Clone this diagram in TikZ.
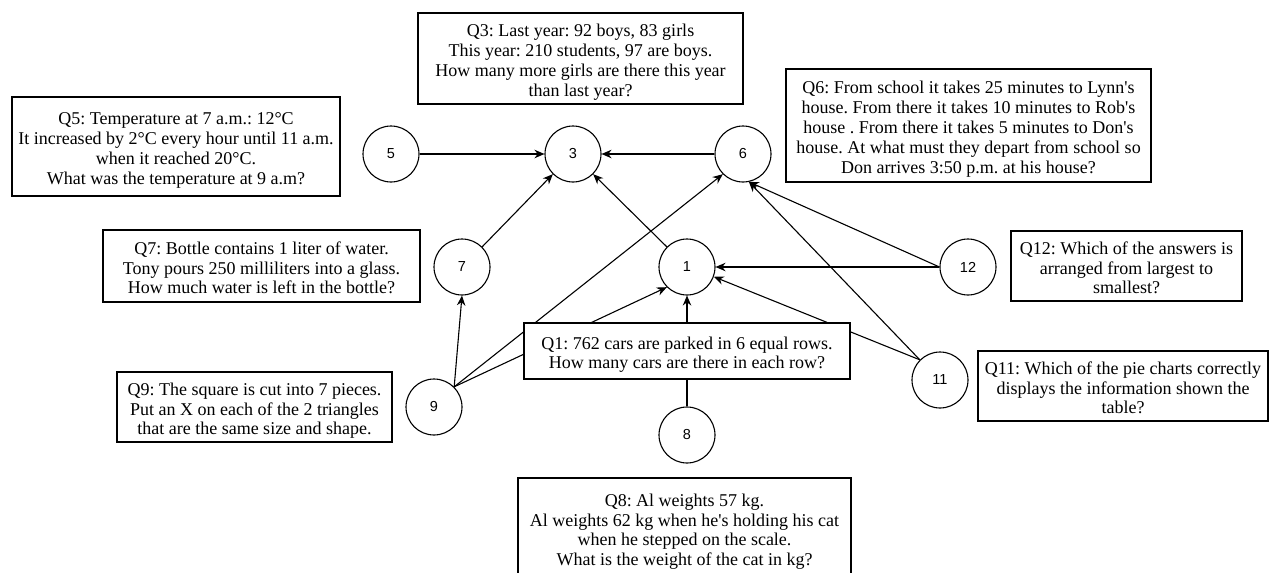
\documentclass[tikz,border=0pt]{standalone}
\usepackage{fontspec}
\setmainfont{Liberation Serif}
\newfontfamily\circfont{Liberation Sans}
\usetikzlibrary{arrows.meta}
\frenchspacing
% struts that give every text block the same top and bottom room
\newcommand\qtopstrut{\rule{0pt}{20.5pt}}
\newcommand\qbotstrut{\rule[-4.5pt]{0pt}{4.5pt}}
\begin{document}
\begin{tikzpicture}[x=1pt,y=-1pt,
  qbox/.style={draw, line width=1.2pt, fill=white, align=center, inner sep=0pt,
    font=\fontsize{18}{19.8}\selectfont},
  qnum/.style={draw, circle, line width=1.1pt, fill=white, minimum size=56pt,
    inner sep=0pt, font=\circfont\fontsize{14.5}{16}\selectfont},
  link/.style={line width=1.1pt, -{Stealth[length=10pt,width=8.5pt]}}]
\clip (0,0) rectangle (1270,573);

% question numbers
\node[qnum] (c5)  at (391,154) {5};
\node[qnum] (c3)  at (573,154) {3};
\node[qnum] (c6)  at (743,154) {6};
\node[qnum] (c7)  at (462,267) {7};
\node[qnum] (c1)  at (687,267) {1};
\node[qnum] (c12) at (968,267) {12};
\node[qnum] (c9)  at (434,407) {9};
\node[qnum] (c11) at (940,380) {11};
\node[qnum] (c8)  at (687,435) {8};

% dependencies
\draw[link] (c5.east) -- (c3.west);
\draw[link] (c6.west) -- (c3.east);
\draw[link] (c7.45) -- (c3.225);
\draw[link] (c1.135) -- (c3.315);
\draw[link] (c9.45) -- (c7.south);
\draw[link] (c9.45) -- (c6.225);
\draw[link] (c9.45) -- (c1.225);
\draw[link] (c8.north) -- (c1.south);
\draw[link] (c12.west) -- (c1.east);
\draw[link] (c12.west) -- (c6.-78);
\draw[link] (c11.135) -- (c1.-20);
\draw[link] (c11.135) -- (c6.-78);

% question texts
\node[qbox, minimum width=325pt, minimum height=91pt] (q3) at (580.5,58.5)
  {\qtopstrut Q3: Last year: 92 boys, 83 girls\\This year: 210 students, 97 are boys.\\How many more girls are there this year\\than last year?\qbotstrut};
\node[qbox, minimum width=328pt, minimum height=99pt] (q5) at (176,146.5)
  {\qtopstrut Q5: Temperature at 7 a.m.: 12°C\\It increased by 2°C every hour until 11 a.m.\\when it reached 20°C.\\What was the temperature at 9 a.m?\qbotstrut};
\node[qbox, minimum width=365pt, minimum height=113pt] (q6) at (968.5,125.5)
  {\qtopstrut Q6: From school it takes 25 minutes to Lynn\textquotesingle s\\house. From there it takes 10 minutes to Rob\textquotesingle s\\house . From there it takes 5 minutes to Don\textquotesingle s\\house. At what must they depart from school so\\Don arrives 3:50 p.m. at his house?\qbotstrut};
\node[qbox, minimum width=317pt, minimum height=72pt] (q7) at (261.5,266)
  {\qtopstrut Q7: Bottle contains 1 liter of water.\\Tony pours 250 milliliters into a glass.\\How much water is left in the bottle?\qbotstrut};
\node[qbox, minimum width=231pt, minimum height=70pt] (q12) at (1126.5,266)
  {\qtopstrut Q12: Which of the answers is\\arranged from largest to\\smallest?\qbotstrut};
\node[qbox, minimum width=326pt, minimum height=56pt] (q1) at (687,351)
  {\qtopstrut Q1: 762 cars are parked in 6 equal rows.\\How many cars are there in each row?\qbotstrut};
\node[qbox, minimum width=275pt, minimum height=70pt] (q9) at (254.5,407)
  {\qtopstrut Q9: The square is cut into 7 pieces.\\Put an X on each of the 2 triangles\\that are the same size and shape.\qbotstrut};
\node[qbox, minimum width=290pt, minimum height=70pt] (q11) at (1123,386)
  {\qtopstrut Q11: Which of the pie charts correctly\\displays the information shown the\\table?\qbotstrut};
\node[qbox, minimum width=333pt, minimum height=100pt] (q8) at (684.5,528)
  {\qtopstrut Q8: Al weights 57 kg.\\Al weights 62 kg when he\textquotesingle s holding his cat\\when he stepped on the scale.\\What is the weight of the cat in kg?\qbotstrut};
\end{tikzpicture}
\end{document}
